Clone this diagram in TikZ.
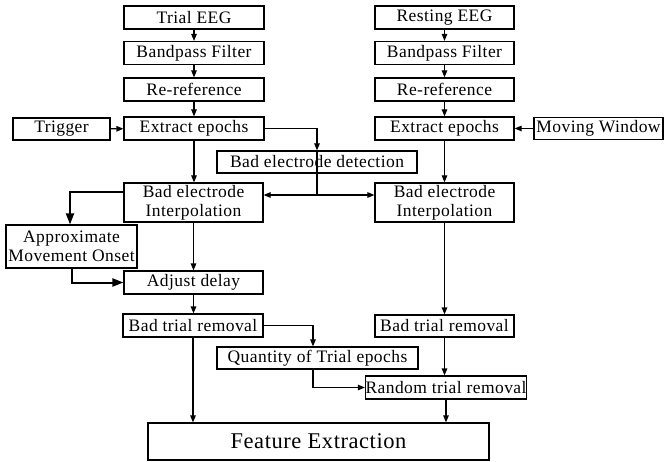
\documentclass[tikz,border=0pt]{standalone}
\usepackage{fontspec}
\setmainfont{Liberation Serif}[LetterSpace=2.5]
\usetikzlibrary{arrows.meta,calc}
\begin{document}
\begin{tikzpicture}[x=1pt,y=-1pt,
  box/.style={draw,line width=1.2pt,inner sep=0pt,align=center,font=\fontsize{17.5}{19}\selectfont},
  con/.style={line width=1.2pt,-{Triangle[length=7pt,width=5.5pt]}},
  thk/.style={line width=2pt,-{Triangle[length=11pt,width=8pt]}},
  ln/.style={line width=1.2pt}]
\useasboundingbox (0,0) rectangle (666,462);
% left column
\node[box,minimum width=140pt,minimum height=23pt] (trial) at (194,17.5) {Trial EEG};
\node[box,minimum width=140pt,minimum height=23pt] (bp1) at (194,53) {Bandpass Filter};
\node[box,minimum width=140pt,minimum height=23pt] (rr1) at (194,89.5) {Re-reference};
\node[box,minimum width=140pt,minimum height=23pt] (ex1) at (194,128.5) {Extract epochs};
\node[box,minimum width=97pt,minimum height=22pt] (trig) at (61.5,129) {Trigger};
% right column
\node[box,minimum width=139pt,minimum height=23pt] (rest) at (444.5,17.5) {Resting EEG};
\node[box,minimum width=139pt,minimum height=23pt] (bp2) at (444.5,53) {Bandpass Filter};
\node[box,minimum width=139pt,minimum height=23pt] (rr2) at (444.5,89.5) {Re-reference};
\node[box,minimum width=139pt,minimum height=23pt] (ex2) at (444.5,128.5) {Extract epochs};
\node[box,minimum width=129pt,minimum height=22pt] (mov) at (598.5,128.5) {Moving Window};
% middle
\node[box,minimum width=200pt,minimum height=22pt] (det) at (317,162) {Bad electrode detection};
\node[box,minimum width=139pt,minimum height=39pt] (int1) at (193.5,202.5) {Bad electrode\\Interpolation};
\node[box,minimum width=139pt,minimum height=39pt] (int2) at (444.5,202.5) {Bad electrode\\Interpolation};
\node[box,minimum width=131pt,minimum height=43pt] (apx) at (71.5,246.5) {Approximate\\Movement Onset};
\node[box,minimum width=139pt,minimum height=23pt] (adj) at (193.5,282.5) {Adjust delay};
\node[box,minimum width=140pt,minimum height=23pt] (btr1) at (193,325.5) {Bad trial removal};
\node[box,minimum width=139pt,minimum height=22pt] (btr2) at (444.5,326) {Bad trial removal};
\node[box,minimum width=201pt,minimum height=22pt] (qty) at (317.5,358) {Quantity of Trial epochs};
\node[box,minimum width=160pt,minimum height=23pt] (rnd) at (446,387.5) {Random trial removal};
\node[box,minimum width=341pt,minimum height=37pt,font=\fontsize{22.5}{24}\selectfont] (feat) at (318.5,441.5) {Feature Extraction};
% connectors left
\draw[con] (trial) -- (bp1);
\draw[con] (bp1) -- (rr1);
\draw[con] (rr1) -- (ex1);
\draw[con] (trig) -- (ex1);
\draw[con] (ex1.south) -- (ex1.south |- int1.north);
\draw[con] (int1) -- (adj);
\draw[con] (adj.south) -- (adj.south |- btr1.north);
\draw[con] (btr1.south) -- (btr1.south |- feat.north);
% connectors right
\draw[con] (rest) -- (bp2);
\draw[con] (bp2) -- (rr2);
\draw[con] (rr2) -- (ex2);
\draw[con] (mov) -- (ex2);
\draw[con] (ex2) -- (int2);
\draw[con] (int2) -- (btr2);
\draw[con] (btr2.south) -- (btr2.south |- rnd.north);
\draw[con] (rnd.south) -- (rnd.south |- feat.north);
% detection
\coordinate (J) at (det.north |- 0,195);
\draw[con] (ex1.east) -| (det.north);
\draw[ln] (det.north) -- (J);
\draw[con] (J) -- (int1.east |- J);
\draw[con] (J) -- (int2.west |- J);
% movement onset
\draw[thk] ([yshift=10pt]int1.west) -| ([xshift=-1.5pt]apx.north);
\draw[thk] ([xshift=0.5pt]apx.south) |- (adj.west);
% quantity
\draw[con] (btr1.east) -| ([xshift=-4.5pt]qty.north);
\draw[con] ([xshift=-4.5pt]qty.south) |- (rnd.west);
\end{tikzpicture}
\end{document}
